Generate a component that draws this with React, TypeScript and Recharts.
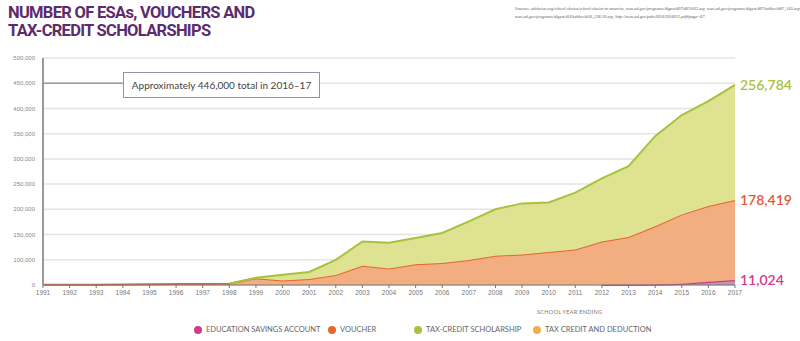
import React from 'react';
import {
  AreaChart,
  Area,
  XAxis,
  YAxis,
  CartesianGrid,
  ReferenceLine,
} from 'recharts';

// School years (ending) on the x axis
const years = [
  1991, 1992, 1993, 1994, 1995, 1996, 1997, 1998, 1999, 2000, 2001, 2002, 2003, 2004,
  2005, 2006, 2007, 2008, 2009, 2010, 2011, 2012, 2013, 2014, 2015, 2016, 2017,
];

// Participants per program (null = program not yet running)
const esa = [
  null, null, null, null, null, null, null, null, null, null, null, null, null, null,
  null, null, null, null, null, null, null, 500, 800, 1000, 3000, 7000, 11024,
];
const voucher = [
  500, 600, 800, 1000, 1500, 2000, 2500, 3000, 15000, 10000, 13500, 22500, 43000, 37000,
  46500, 49000, 56000, 65000, 68000, 73500, 79000, 96500, 106200, 130000, 154500, 169000, 178419,
];
const taxCredit = [
  null, null, null, null, null, null, null, 0, 1000, 13000, 15500, 33500, 54000, 57000,
  58500, 67000, 86000, 104000, 114000, 110500, 127000, 141000, 158000, 201000, 221500, 234000, 256784,
];

// The printed y axis: ten evenly spaced gridlines, labelled as in the original
const yTickValues = [0, 56250, 112500, 168750, 225000, 281250, 337500, 393750, 450000, 506250];
const yTickLabels = [
  '0', '100,000', '150,000', '200,000', '250,000', '300,000', '350,000', '400,000', '450,000', '500,000',
];

const endLabels = { esa: '11,024', voucher: '178,419', taxCredit: '256,784' };
const legendItems = [
  { name: 'EDUCATION SAVINGS ACCOUNT', color: '#d13b8d' },
  { name: 'VOUCHER', color: '#e4672f' },
  { name: 'TAX-CREDIT SCHOLARSHIP', color: '#a9c23c' },
  { name: 'TAX CREDIT AND DEDUCTION', color: '#f2ad4d' },
];
const titleLines = ['NUMBER OF ESAs, VOUCHERS AND', 'TAX-CREDIT SCHOLARSHIPS'];
const sourcesLines = [
  'Sources: edchoice.org/school-choice/school-choice-in-america, nces.ed.gov/programs/digest/d07/d07t163.asp, nces.ed.gov/programs/digest/d07/tables/dt07_165.asp,',
  'nces.ed.gov/programs/digest/d16/tables/dt16_236.10.asp, http://nces.ed.gov/pubs2016/2016013.pdf#page=67.',
];

const data = years.map((year, i) => ({
  year,
  esa: esa[i],
  voucher: voucher[i],
  taxCredit: taxCredit[i],
}));

const last = years.length - 1;

const endLabel = (text: string, color: string) => (props: any) => {
  if (props.index !== last) return null;
  return (
    <text
      x={props.x + 5}
      y={props.y}
      dy={5}
      fill={color}
      fontSize={14}
      fontWeight={600}
      fontFamily="Lato, sans-serif"
    >
      {text}
    </text>
  );
};

const legendLeft = [194, 328, 414, 533];

export default function App() {
  return (
    <div style={{ position: 'absolute', left: 0, top: 0, width: 800, height: 341, background: '#fff', fontFamily: 'Lato, sans-serif' }}>
      {titleLines.map((line, i) => (
        <div
          key={line}
          style={{
            position: 'absolute',
            left: 8,
            top: 4 + i * 18,
            fontFamily: 'Roboto, sans-serif',
            fontWeight: 700,
            fontSize: 16.5,
            lineHeight: '17px',
            letterSpacing: -0.7,
            color: '#5d2b6c',
            whiteSpace: 'nowrap',
          }}
        >
          {line}
        </div>
      ))}
      {sourcesLines.map((line, i) => (
        <div
          key={i}
          style={{
            position: 'absolute',
            left: 515,
            top: 5 + i * 8,
            fontSize: 4.3,
            lineHeight: '7px',
            fontStyle: 'italic',
            color: '#555',
            fontFamily: '"Liberation Serif", serif',
            whiteSpace: 'nowrap',
          }}
        >
          {line}
        </div>
      ))}

      <AreaChart width={800} height={341} data={data} margin={{ top: 58, right: 65, bottom: 36, left: 0 }}>
        <CartesianGrid vertical={false} stroke="#e4e4e4" strokeWidth={1.5} />
        <XAxis
          dataKey="year"
          type="number"
          domain={[1991, 2017]}
          ticks={years}
          interval={0}
          height={20}
          stroke="#777"
          tickSize={3}
          tick={{ fontSize: 6.5, fill: '#777', fontFamily: '"Liberation Sans Narrow", sans-serif' }}
        />
        <YAxis
          type="number"
          domain={[0, 506250]}
          ticks={yTickValues}
          interval={0}
          width={43}
          axisLine={{ stroke: '#999', strokeWidth: 2 }}
          tickLine={false}
          tickFormatter={(v: number) => yTickLabels[yTickValues.indexOf(v)]}
          tick={{ fontSize: 6, fill: '#888', fontFamily: '"Liberation Sans Narrow", sans-serif' }}
        />
        <ReferenceLine
          segment={[{ x: 1991, y: 450000 }, { x: 1994, y: 450000 }]}
          stroke="#9a9a9a"
          strokeWidth={1.5}
        />
        <Area
          dataKey="esa"
          stackId="a"
          type="linear"
          stroke="#d13b8d"
          strokeWidth={2.5}
          fill="#b999b5"
          fillOpacity={1}
          isAnimationActive={false}
          label={endLabel(endLabels.esa, '#cf3c8b')}
        />
        <Area
          dataKey="voucher"
          stackId="a"
          type="linear"
          stroke="#e4672f"
          strokeWidth={2}
          fill="#f2ae80"
          fillOpacity={1}
          isAnimationActive={false}
          label={endLabel(endLabels.voucher, '#e4583a')}
        />
        <Area
          dataKey="taxCredit"
          stackId="a"
          type="linear"
          stroke="#a9c23c"
          strokeWidth={2}
          fill="#dee291"
          fillOpacity={1}
          isAnimationActive={false}
          label={endLabel(endLabels.taxCredit, '#a9c23c')}
        />
      </AreaChart>

      <div
        style={{
          position: 'absolute',
          left: 123,
          top: 72,
          width: 197,
          height: 26,
          boxSizing: 'border-box',
          border: '1.5px solid #9d8ca8',
          background: '#fff',
          fontSize: 10,
          color: '#444',
          display: 'flex',
          alignItems: 'center',
          justifyContent: 'center',
          whiteSpace: 'nowrap',
        }}
      >
        Approximately 446,000 total in 2016–17
      </div>

      <div
        style={{
          position: 'absolute',
          left: 537,
          top: 309,
          fontSize: 5.5,
          color: '#777',
          letterSpacing: 0.3,
        }}
      >
        SCHOOL YEAR ENDING
      </div>

      {legendItems.map((item, i) => (
        <div
          key={item.name}
          style={{
            position: 'absolute',
            left: legendLeft[i],
            top: 325,
            display: 'flex',
            alignItems: 'center',
            fontSize: 7.5,
            color: '#666',
            whiteSpace: 'nowrap',
          }}
        >
          <span
            style={{
              display: 'inline-block',
              width: 8,
              height: 8,
              borderRadius: 4,
              background: item.color,
              marginRight: 4,
            }}
          />
          {item.name}
        </div>
      ))}
    </div>
  );
}
